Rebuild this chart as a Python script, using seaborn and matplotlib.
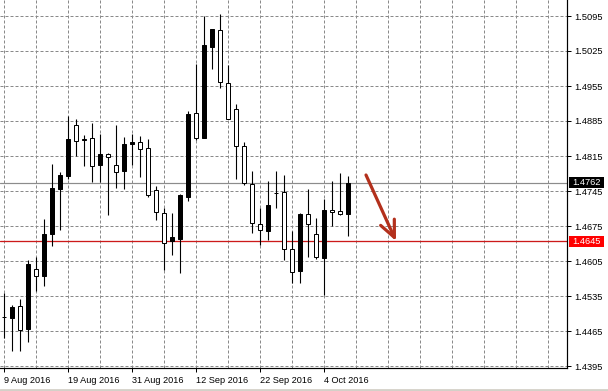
import numpy as np
import pandas as pd
import seaborn as sns
import matplotlib
matplotlib.use("Agg")
import matplotlib.pyplot as plt
from matplotlib.patches import Rectangle
from matplotlib.lines import Line2D
from matplotlib.transforms import blended_transform_factory

# ---- data (daily candles, 9 Aug 2016 .. 7 Oct 2016) ----
opens = [1.4493, 1.4492, 1.4515, 1.4470, 1.4588, 1.4576, 1.4660, 1.4750, 1.4776, 1.4878,
         1.4849, 1.4851, 1.4798, 1.4819, 1.4798, 1.4785, 1.4840, 1.4844, 1.4830, 1.4747,
         1.4702, 1.4645, 1.4649, 1.4734, 1.4902, 1.4852, 1.5034, 1.5066, 1.4962, 1.4909,
         1.4835, 1.4760, 1.4680, 1.4666, 1.4742, 1.4744, 1.4630, 1.4586, 1.4699, 1.4660,
         1.4612, 1.4708, 1.4705, 1.4700]
highs = [1.4541, 1.4517, 1.4529, 1.4608, 1.4614, 1.4689, 1.4800, 1.4784, 1.4895, 1.4889,
         1.4858, 1.4881, 1.4859, 1.4822, 1.4877, 1.4853, 1.4859, 1.4855, 1.4850, 1.4756,
         1.4712, 1.4702, 1.4740, 1.4905, 1.4999, 1.5096, 1.5070, 1.5100, 1.4997, 1.4919,
         1.4844, 1.4785, 1.4712, 1.4765, 1.4785, 1.4777, 1.4666, 1.4702, 1.4749, 1.4691,
         1.4729, 1.4766, 1.4782, 1.4776]
lows = [1.4451, 1.4426, 1.4426, 1.4444, 1.4546, 1.4555, 1.4636, 1.4668, 1.4770, 1.4816,
        1.4796, 1.4763, 1.4764, 1.4697, 1.4752, 1.4750, 1.4797, 1.4774, 1.4734, 1.4688,
        1.4588, 1.4617, 1.4582, 1.4726, 1.4847, 1.4852, 1.4989, 1.4952, 1.4889, 1.4770,
        1.4757, 1.4662, 1.4637, 1.4647, 1.4712, 1.4607, 1.4562, 1.4562, 1.4614, 1.4609,
        1.4537, 1.4676, 1.4697, 1.4655]
closes = [1.4493, 1.4514, 1.4468, 1.4600, 1.4576, 1.4659, 1.4750, 1.4777, 1.4849, 1.4846,
          1.4848, 1.4795, 1.4819, 1.4814, 1.4784, 1.4840, 1.4844, 1.4830, 1.4738, 1.4704,
          1.4642, 1.4653, 1.4737, 1.4900, 1.4852, 1.5037, 1.5069, 1.4964, 1.4889, 1.4836,
          1.4762, 1.4682, 1.4668, 1.4718, 1.4741, 1.4630, 1.4584, 1.4700, 1.4680, 1.4613,
          1.4707, 1.4704, 1.4700, 1.4762]

date_labels = ["9 Aug 2016", "19 Aug 2016", "31 Aug 2016", "12 Sep 2016", "22 Sep 2016", "4 Oct 2016"]
date_label_bars = [0, 8, 16, 24, 32, 40]
price_ticks = [1.5095, 1.5025, 1.4955, 1.4885, 1.4815, 1.4745, 1.4675, 1.4605, 1.4535, 1.4465, 1.4395]
current_price = 1.4762
level_price = 1.4645
arrow_from = (45.25, 1.4777)
arrow_to = (49.0, 1.4645)

df = pd.DataFrame({"open": opens, "high": highs, "low": lows, "close": closes})
df["bar"] = np.arange(len(df))

sns.set_theme(style="white")
plt.rcParams["font.family"] = ["Liberation Sans", "DejaVu Sans"]

W, H = 608, 391
fig = plt.figure(figsize=(W / 100, H / 100), dpi=100)
ax_left, ax_bottom, ax_w, ax_h = 0 / W, (H - 368) / H, 567 / W, 368 / H
ax = fig.add_axes([ax_left, ax_bottom, ax_w, ax_h])
ax.set_facecolor("white")

px = 0.72  # one pixel in points
grid_kw = dict(color="#8a8a8a", linewidth=px, linestyle=(0, (3, 2)), zorder=0.5)

# grid
for p in price_ticks:
    ax.axhline(p, **grid_kw)
for b in np.arange(0, 70, 4):
    ax.axvline(b, **grid_kw)

# horizontal levels
ax.axhline(current_price, color="#8c8c8c", linewidth=px * 1.2, zorder=1)
ax.axhline(level_price, color="#cc1a1a", linewidth=px * 1.3, zorder=1)

# candles: wicks
sns.lineplot(ax=ax)  # seaborn axes context
ax.vlines(df["bar"], df["low"], df["high"], color="black", linewidth=px * 1.1, zorder=2)
# bodies
bottoms = np.minimum(df["open"], df["close"])
heights = np.abs(df["close"] - df["open"])
colors = np.where(df["close"] > df["open"], "black", "white")
ax.bar(df["bar"], heights, bottom=bottoms, width=0.55, color=colors,
       edgecolor="black", linewidth=px, zorder=3)

# arrow
ax.annotate("", xy=arrow_to, xytext=arrow_from,
            arrowprops=dict(arrowstyle="->,head_length=1.0,head_width=0.45",
                            color="#b3301c", lw=2.3, shrinkA=0, shrinkB=0),
            zorder=4)

# limits
ax.set_xlim(-0.5, 70.375)
ax.set_ylim(1.4391, 1.5127)

# spines
for s in ["left", "top"]:
    ax.spines[s].set_visible(False)
for s in ["right", "bottom"]:
    ax.spines[s].set_visible(True)
    ax.spines[s].set_color("black")
    ax.spines[s].set_linewidth(px * 1.2)

# y axis on the right
ax.yaxis.tick_right()
ax.set_yticks(price_ticks)
ax.set_yticklabels([f"{p:.4f}" for p in price_ticks])
ax.tick_params(axis="y", which="both", right=True, left=False, length=3, width=px,
               color="black", direction="out", pad=2.5, labelsize=6.7, labelcolor="black")

# x axis
ax.set_xticks(date_label_bars)
ax.set_xticklabels(date_labels)
ax.tick_params(axis="x", bottom=True, length=3, width=px, color="black", direction="out",
               pad=2.5, labelsize=6.6, labelcolor="black")
for lbl in ax.get_xticklabels():
    lbl.set_horizontalalignment("left")
ax.grid(False)

# price boxes on the right axis
bt = blended_transform_factory(fig.transFigure, ax.transData)
box_h = 11 / 5000
for price, face in [(current_price, "black"), (level_price, "#ff0000")]:
    rect = Rectangle((569 / W, price - box_h / 2), 35 / W, box_h, transform=bt,
                     facecolor=face, edgecolor="none", clip_on=False, zorder=10)
    ax.add_patch(rect)
    ax.text(572 / W, price, f"{price:.4f}", transform=bt, color="white", fontsize=6.7,
            va="center", ha="left", clip_on=False, zorder=11)

# window border at the bottom
fig.add_artist(Line2D([0, 1], [1.5 / H, 1.5 / H], transform=fig.transFigure,
                      color="#d4d0c8", linewidth=2))

fig.savefig("out.png", dpi=100, facecolor="white")
